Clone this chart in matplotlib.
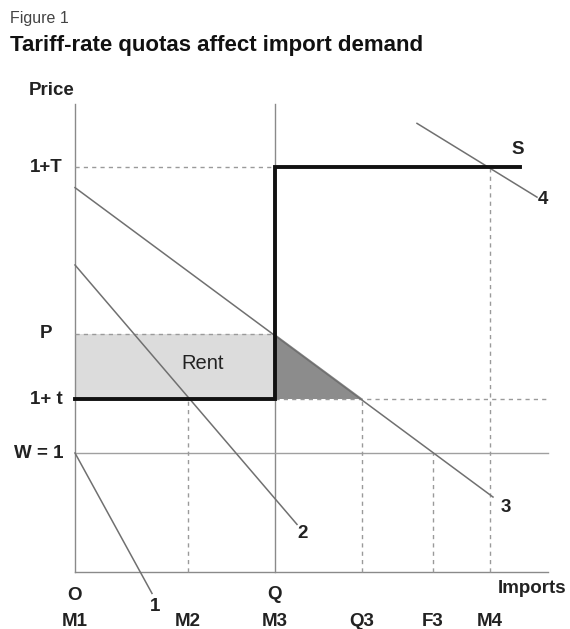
import matplotlib
matplotlib.use("Agg")
import matplotlib.pyplot as plt

plt.rcParams['font.family'] = ['Liberation Sans', 'DejaVu Sans']

# ---- data (economic units: price, import quantity) ----
price_levels = {"1+T": 3.4, "P": 2.0, "1+ t": 1.45, "W = 1": 1.0}
price_top = 3.93
qty_levels = {"M1": 0.0, "M2": 5.65, "M3": 10.0, "Q3": 14.35, "F3": 17.9, "M4": 20.75}
qty_end = 23.65
quota = 10.0
supply_end = 22.25

# demand curves: (q_start, p_start, q_end, p_end)
demand_names = ["1", "2", "3", "4"]
demand_q0 = [0.0, 0.0, 0.0, 17.1]
demand_p0 = [1.0, 2.58, 3.23, 3.77]
demand_q1 = [3.85, 11.1, 20.9, 23.1]
demand_p1 = [-0.18, 0.40, 0.63, 3.15]

# ---- figure ----
W, H = 570, 629
fig = plt.figure(figsize=(W / 100, H / 100), dpi=100)
ax = fig.add_axes([0, 0, 1, 1])
# map: px = 75 + q*20 ; py = 572 - p*119
ax.set_xlim(-75 / 20, (W - 75) / 20)
ax.set_ylim(-(H - 572) / 119, 572 / 119)
ax.axis('off')

gray = '#8a8a8a'
dash = dict(color='#9a9a9a', lw=1.0, ls=(0, (3, 3)))

pT, pP, pt, pW = (price_levels[k] for k in ["1+T", "P", "1+ t", "W = 1"])

# shaded areas
ax.fill_between([0, quota], pt, pP, color='#dcdcdc', lw=0, zorder=1)
slope3 = (demand_p0[2] - demand_p1[2]) / (demand_q1[2] - demand_q0[2])
q_tri = quota + (pP - pt) / slope3
ax.fill([quota, quota, q_tri], [pP, pt, pt], color='#8c8c8c', lw=0, zorder=1)

# axes
ax.plot([0, 0], [0, price_top], color=gray, lw=1.0, zorder=2)
ax.plot([0, qty_end], [0, 0], color=gray, lw=1.0, zorder=2)
# Q vertical and W=1 horizontal solid gray
ax.plot([quota, quota], [0, price_top], color=gray, lw=1.0, zorder=2)
ax.plot([0, qty_end], [pW, pW], color='#a0a0a0', lw=1.0, zorder=2)

# dashed guides
ax.plot([0, quota], [pT, pT], **dash, zorder=2)
ax.plot([0, quota], [pP, pP], **dash, zorder=2)
ax.plot([quota, qty_end], [pt, pt], **dash, zorder=2)
ax.plot([qty_levels["M2"]] * 2, [0, pt], **dash, zorder=2)
ax.plot([qty_levels["Q3"]] * 2, [0, pt], **dash, zorder=2)
ax.plot([qty_levels["F3"]] * 2, [0, pW], **dash, zorder=2)
ax.plot([qty_levels["M4"]] * 2, [0, pT], **dash, zorder=2)

# demand curves
for q0, p0, q1, p1 in zip(demand_q0, demand_p0, demand_q1, demand_p1):
    ax.plot([q0, q1], [p0, p1], color='#707070', lw=1.1, zorder=3, clip_on=False)

# supply (tariff-rate quota)
ax.plot([0, quota, quota, supply_end], [pt, pt, pT, pT], color='#111111', lw=2.8,
        zorder=4, solid_joinstyle='miter')

# ---- text ----
fig.text(10 / W, 1 - 18 / H, "Figure 1", fontsize=11.5, color='#444444', va='center')
fig.text(10 / W, 1 - 45 / H, "Tariff-rate quotas affect import demand", fontsize=16,
         fontweight='bold', va='center', color='#111111')

lab = dict(fontsize=13.5, fontweight='bold', color='#222222')
ax.text(-1.15, 4.05, "Price", ha='center', va='center', **lab)
for name, p in price_levels.items():
    if name == "P":
        ax.text(-1.45, p, name, ha='center', va='center', **lab)
    else:
        ax.text(-0.6, p, name, ha='right', va='center', **lab)

ax.text(0, -0.2, "O", ha='center', va='center', **lab)
ax.text(quota, -0.19, "Q", ha='center', va='center', **lab)
ax.text(22.85, -0.135, "Imports", ha='center', va='center', **lab)
for name, q in qty_levels.items():
    ax.text(q, -0.42, name, ha='center', va='center', **lab)

ax.text(6.4, 1.755, "Rent", ha='center', va='center', fontsize=14.5, color='#222222')
ax.text(22.15, 3.55, "S", ha='center', va='center', **lab)

label_offsets = [(0.15, -0.11), (0.3, -0.08), (0.65, -0.09), (0.3, -0.02)]
for name, q1, p1, (dq, dp) in zip(demand_names, demand_q1, demand_p1, label_offsets):
    ax.text(q1 + dq, p1 + dp, name, ha='center', va='center', **lab)

fig.savefig("out.png", dpi=100)
